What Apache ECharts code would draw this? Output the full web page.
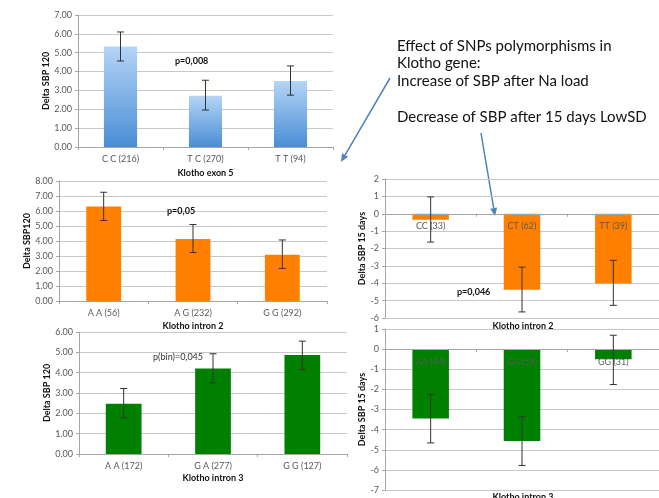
<!DOCTYPE html>
<html><head><meta charset="utf-8">
<script src="https://cdn.jsdelivr.net/npm/echarts@6/dist/echarts.min.js"></script>
<style>html,body{margin:0;padding:0;background:#fff}#c{width:659px;height:498px}</style>
</head><body><div id="c"></div>
<script>
// Increase of SBP after Na load
const exon5Cats = ['C C (216)', 'T C (270)', 'T T (94)'];
const exon5Mean = [5.33, 2.72, 3.50];
const exon5Hi = [6.10, 3.54, 4.30];
const exon5Lo = [4.56, 1.96, 2.75];

const intron2Cats = ['A A (56)', 'A G (232)', 'G G (292)'];
const intron2Mean = [6.30, 4.13, 3.08];
const intron2Hi = [7.25, 5.10, 4.07];
const intron2Lo = [5.37, 3.23, 2.17];

const intron3Cats = ['A A (172)', 'G A (277)', 'G G (127)'];
const intron3Mean = [2.47, 4.20, 4.87];
const intron3Hi = [3.22, 4.93, 5.55];
const intron3Lo = [1.78, 3.50, 4.15];

// Decrease of SBP after 15 days LowSD
const lowIntron2Cats = ['CC (33)', 'CT (62)', 'TT (39)'];
const lowIntron2Mean = [-0.35, -4.37, -4.02];
const lowIntron2Hi = [0.97, -3.07, -2.68];
const lowIntron2Lo = [-1.63, -5.65, -5.27];

const lowIntron3Cats = ['AA (44)', 'GA (59)', 'GG (31)'];
const lowIntron3Mean = [-3.45, -4.57, -0.50];
const lowIntron3Hi = [-2.24, -3.36, 0.69];
const lowIntron3Lo = [-4.66, -5.78, -1.76];

const FONT = 'Lato, "Open Sans", sans-serif';
const GRID_C = '#c8c8c8';
const LBL_C = '#595959';

const panels = [
  {cats: exon5Cats, mean: exon5Mean, hi: exon5Hi, lo: exon5Lo,
   color: new echarts.graphic.LinearGradient(0,0,0,1,[{offset:0,color:'#b4d5f6'},{offset:1,color:'#4a8dd5'}]),
   grid: {left:78, top:15, width:255, height:132}, min:0, max:7, dec:true,
   yName:'Delta SBP 120', yGap:27, xName:'Klotho exon 5', xGap:22, barW:'39%'},
  {cats: intron2Cats, mean: intron2Mean, hi: intron2Hi, lo: intron2Lo, color:'#ff8000',
   grid: {left:59, top:181, width:268, height:120}, min:0, max:8, dec:true,
   yName:'Delta SBP120', yGap:27, xName:'Klotho intron 2', xGap:21, barW:'39%'},
  {cats: intron3Cats, mean: intron3Mean, hi: intron3Hi, lo: intron3Lo, color:'#008000',
   grid: {left:79, top:332, width:268, height:122}, min:0, max:6, dec:true,
   yName:'Delta SBP 120', yGap:27, xName:'Klotho intron 3', xGap:20, barW:'40%'},
  {cats: lowIntron2Cats, mean: lowIntron2Mean, hi: lowIntron2Hi, lo: lowIntron2Lo, color:'#ff8000',
   grid: {left:385, top:179, width:278, height:139}, min:-6, max:2, dec:false,
   yName:'Delta SBP 15 days', yGap:18, xName:'', barW:'40%'},
  {cats: lowIntron3Cats, mean: lowIntron3Mean, hi: lowIntron3Hi, lo: lowIntron3Lo, color:'#008000',
   grid: {left:385, top:329, width:278, height:161}, min:-7, max:1, dec:false,
   yName:'Delta SBP 15 days', yGap:18, xName:'', barW:'40%'}
];

const grid = [], xAxis = [], yAxis = [], series = [];
panels.forEach((p, i) => {
  grid.push(Object.assign({containLabel:false}, p.grid));
  // place the category axis at the value-axis zero line
  const zeroOffset = p.min < 0 ? -p.grid.height * (0 - p.min) / (p.max - p.min) : 0;
  xAxis.push({
    type:'category', gridIndex:i, data:p.cats, z:3, position:'bottom', offset:zeroOffset,
    axisLine:{show:true, onZero:false, lineStyle:{color:'#a6a6a6'}},
    axisTick:{show:true, length:3, lineStyle:{color:'#a6a6a6'}},
    axisLabel:{color:LBL_C, fontSize:9, fontFamily:FONT, margin:8},
    name:p.xName, nameLocation:'middle', nameGap:p.xGap,
    nameTextStyle:{color:'#111', fontSize:9, fontWeight:'bold', fontFamily:FONT}
  });
  yAxis.push({
    type:'value', gridIndex:i, min:p.min, max:p.max, interval:1,
    axisLine:{show:true, lineStyle:{color:'#a6a6a6'}},
    axisTick:{show:true, length:3, lineStyle:{color:'#a6a6a6'}},
    splitLine:{show:true, lineStyle:{color:GRID_C, width:1}},
    axisLabel:{color:LBL_C, fontSize:9, fontFamily:FONT, margin:6,
      formatter: v => p.dec ? v.toFixed(2) : String(v)},
    name:p.yName, nameLocation:'middle', nameGap:p.yGap, nameRotate:90,
    nameTextStyle:{color:'#111', fontSize:9, fontWeight:'bold', fontFamily:FONT}
  });
  series.push({
    type:'bar', xAxisIndex:i, yAxisIndex:i, data:p.mean, barWidth:p.barW,
    itemStyle:{color:p.color}, silent:true, z:2
  });
  series.push({
    type:'custom', xAxisIndex:i, yAxisIndex:i, z:5, silent:true,
    encode:{x:0, y:[1,2]},
    data: p.cats.map((c, j) => [j, p.lo[j], p.hi[j]]),
    renderItem(params, api) {
      const x = api.value(0);
      const a = api.coord([x, api.value(2)]);
      const b = api.coord([x, api.value(1)]);
      const w = 3.5;
      const st = {stroke:'#333', lineWidth:1};
      return {type:'group', children:[
        {type:'line', shape:{x1:a[0], y1:a[1], x2:b[0], y2:b[1]}, style:st},
        {type:'line', shape:{x1:a[0]-w, y1:a[1], x2:a[0]+w, y2:a[1]}, style:st},
        {type:'line', shape:{x1:b[0]-w, y1:b[1], x2:b[0]+w, y2:b[1]}, style:st}
      ]};
    }
  });
});

function arrow(x1, y1, x2, y2) {
  const dx = x2 - x1, dy = y2 - y1, L = Math.hypot(dx, dy);
  const ux = dx / L, uy = dy / L, hl = 8, hw = 3.5;
  const bx = x2 - ux * hl, by = y2 - uy * hl;
  return [
    {type:'line', shape:{x1, y1, x2:bx, y2:by}, style:{stroke:'#4f81bd', lineWidth:1.5}},
    {type:'polygon', shape:{points:[[x2, y2], [bx - uy*hw, by + ux*hw], [bx + uy*hw, by - ux*hw]]},
     style:{fill:'#4f81bd'}}
  ];
}

const txt = (text, x, y, opts) => Object.assign({type:'text', z:10, style:Object.assign({
  text, x, y, fill:'#111', font:'9px ' + FONT, textVerticalAlign:'middle'}, opts || {})});

const graphic = [
  txt('p=0,008', 175, 61, {font:'bold 9px ' + FONT}),
  txt('p=0,05', 167, 211, {font:'bold 9px ' + FONT}),
  txt('p(bin)=0,045', 153, 357, {fill:'#333'}),
  txt('p=0,046', 457, 292, {font:'bold 9px ' + FONT}),
  txt('Klotho intron 2', 523, 326, {font:'bold 9px ' + FONT, textAlign:'center'}),
  txt('Klotho intron 3', 523, 497, {font:'bold 9px ' + FONT, textAlign:'center'}),
  txt('Effect of SNPs polymorphisms in', 397, 46, {font:'15px ' + FONT}),
  txt('Klotho gene:', 397, 63, {font:'15px ' + FONT}),
  txt('Increase of SBP after Na load', 397, 81, {font:'15px ' + FONT}),
  txt('Decrease of SBP after 15 days LowSD', 397, 117, {font:'15px ' + FONT}),
  ...arrow(390, 78, 341, 162),
  ...arrow(481, 133, 495, 216)
];

const chart = echarts.init(document.getElementById('c'));
chart.setOption({animation:false, backgroundColor:'#fff', grid, xAxis, yAxis, series, graphic});
</script></body></html>
